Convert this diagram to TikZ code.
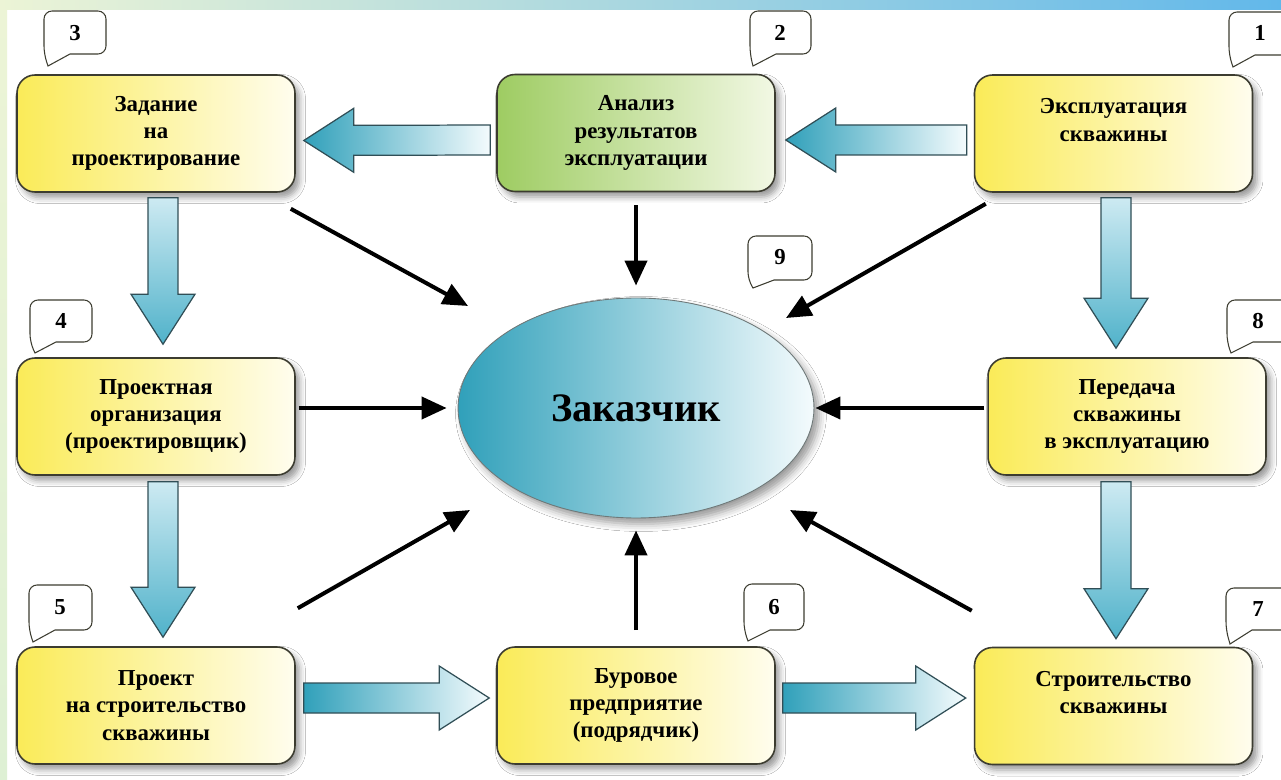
\documentclass[tikz,border=0pt]{standalone}
\usepackage{fontspec}
\setmainfont{Liberation Serif}
\usetikzlibrary{calc,arrows.meta,shapes.geometric,shadows.blur}

\definecolor{boxyellow}{RGB}{250,235,88}
\definecolor{boxcream}{RGB}{255,253,238}
\definecolor{boxgreen}{RGB}{158,204,98}
\definecolor{boxgreenlight}{RGB}{242,248,228}
\definecolor{boxline}{RGB}{60,60,48}
\definecolor{cyandark}{RGB}{48,160,186}
\definecolor{cyanmid}{RGB}{80,178,202}
\definecolor{cyanpale}{RGB}{205,234,242}
\definecolor{cyanlight}{RGB}{244,251,253}
\definecolor{arrline}{RGB}{48,78,86}
\definecolor{ovalline}{RGB}{110,120,120}
\definecolor{stripL}{RGB}{236,244,214}
\definecolor{stripR}{RGB}{98,184,234}
\definecolor{stripside}{RGB}{222,240,212}

% helper: a wide shaded block arrow from #1 (tail) to #2 (tip)
\newcommand\bigarrow[3]{%
  \coordinate (ba-t) at #1;
  \coordinate (ba-h) at #2;
  \coordinate (ba-m) at ($(ba-h)!1.0cm!(ba-t)$);
  \path[bigarrowstyle,#3]
    ($(ba-t)!0.3cm!90:(ba-h)$) -- ($(ba-m)!0.3cm!-90:(ba-t)$)
    -- ($(ba-m)!0.64cm!-90:(ba-t)$) -- (ba-h)
    -- ($(ba-m)!0.64cm!90:(ba-t)$) -- ($(ba-m)!0.3cm!90:(ba-t)$)
    -- ($(ba-t)!0.3cm!-90:(ba-h)$) -- cycle;}

% helper: speech-bubble outline with its tail at lower left
\newcommand\callout[6]{%
  \draw[calloutline] (#1+26,#4) [rounded corners=0.16cm] -- (#3,#4) -- (#3,#2)
    -- (#1,#2) -- (#1,#4) [sharp corners] -- (#5,#6) -- cycle;}

\tikzset{
  stage/.style={rectangle, rounded corners=0.36cm, draw=boxline, line width=0.9pt,
    minimum width=5.56cm, minimum height=2.34cm, align=center,
    font=\fontsize{13}{15.5}\selectfont\bfseries,
    left color=boxyellow, right color=boxcream,
    blur shadow={shadow xshift=0.09cm, shadow yshift=-0.11cm, shadow blur radius=0.12cm}},
  greenstage/.style={stage, left color=boxgreen, right color=boxgreenlight},
  hub/.style={ellipse, draw=ovalline, line width=0.5pt,
    minimum width=7.12cm, minimum height=4.4cm,
    left color=cyandark, right color=cyanlight,
    font=\fontsize{23}{27}\selectfont\bfseries,
    blur shadow={shadow xshift=0.1cm, shadow yshift=-0.12cm, shadow blur radius=0.15cm}},
  bigarrowstyle/.style={draw=arrline, line width=0.7pt},
  horizdark/.style={left color=cyandark, right color=cyanlight},
  horizdarkright/.style={left color=cyandark, right color=cyanlight},
  vertflow/.style={top color=cyanpale, bottom color=cyanmid},
  link/.style={line width=0.08cm, black, -{Triangle[length=0.5cm,width=0.44cm]}},
  calloutline/.style={draw=boxline, line width=0.6pt, fill=white},
  num/.style={font=\fontsize{13}{15}\selectfont\bfseries, inner sep=0pt},
}

\begin{document}
\begin{tikzpicture}[x=0.02cm, y=-0.02cm]
  \useasboundingbox (0,0) rectangle (1281,780);

  % page frame
  \fill[white] (0,0) rectangle (1281,780);
  \fill[left color=stripL, right color=stripR] (0,0) rectangle (1281,10);
  \fill[top color=stripL, bottom color=stripside] (0,10) rectangle (7,780);

  % stages
  \node[stage] (b3) at (156,133.5) {Задание\\на\\проектирование};
  \node[greenstage] (b2) at (636,133) {Анализ\\результатов\\эксплуатации};
  \node[stage] (b1) at (1113.5,133.5) {Эксплуатация\\скважины\\\mbox{}};
  \node[stage] (b4) at (156,416.5) {Проектная\\организация\\(проектировщик)};
  \node[stage] (b8) at (1127,416.5) {Передача\\скважины\\в эксплуатацию};
  \node[stage] (b5) at (156,705.5) {Проект\\на строительство\\скважины};
  \node[stage] (b6) at (636,705.5) {Буровое\\предприятие\\(подрядчик)};
  \node[stage] (b7) at (1113.5,706) {Строительство\\скважины\\\mbox{}};

  % the customer
  \node[hub] (e) at (636,408) {Заказчик};

  % process flow
  \bigarrow{($(b2.west)+(-6,7)$)}{($(b3.east)+(8,7)$)}{horizdark}
  \bigarrow{($(b1.west)+(-7,6.5)$)}{($(b2.east)+(10,7)$)}{horizdark}
  \bigarrow{($(b3.south)+(7,5)$)}{($(b4.north)+(7,-13)$)}{vertflow}
  \bigarrow{($(b4.south)+(7,6)$)}{($(b5.north)+(7,-9)$)}{vertflow}
  \bigarrow{($(b1.south)+(2.5,5)$)}{($(b8.north)+(-11,-9)$)}{vertflow}
  \bigarrow{($(b8.south)+(-11,6)$)}{($(b7.north)+(2.5,-8)$)}{vertflow}
  \bigarrow{($(b5.east)+(8,-7.5)$)}{($(b6.west)+(-7,-7.5)$)}{horizdarkright}
  \bigarrow{($(b6.east)+(7,-7.5)$)}{($(b7.west)+(-8,-8)$)}{horizdarkright}

  % links to the customer
  \draw[link] ($(b3.south east)+(-5,16)$) -- ($(e)+(-168,-102)$);
  \draw[link] ($(b2.south)+(0,13)$) -- ($(e.north)+(0,-12)$);
  \draw[link] ($(b1.south west)+(12,11)$) -- ($(e)+(150,-90)$);
  \draw[link] ($(b4.east)+(3,-8.5)$) -- ($(e.west)+(-11,0)$);
  \draw[link] ($(b8.west)+(-3,-8.5)$) -- ($(e.east)+(1,0)$);
  \draw[link] ($(b5.north east)+(2,-38)$) -- ($(e)+(-166,102)$);
  \draw[link] ($(b6.north)+(0,-16)$) -- ($(e.south)+(0,12)$);
  \draw[link] ($(b7.north west)+(-2,-36)$) -- ($(e)+(154,102)$);

  % step numbers
  \callout{44}{11}{106}{54}{48}{66}
  \node[num] (n3) at (75,33) {3};
  \callout{750}{11}{811}{54}{753}{66}
  \node[num] (n2) at (780,33) {2};
  \callout{1229}{12}{1292}{55}{1233}{67}
  \node[num] (n1) at (1260,33) {1};
  \callout{30}{300}{92}{342}{35}{353}
  \node[num] (n4) at (61,321) {4};
  \callout{748}{236}{812}{280}{753}{288}
  \node[num] (n9) at (780,257) {9};
  \callout{1227}{300}{1292}{342}{1231}{353}
  \node[num] (n8) at (1258,321) {8};
  \callout{29}{585}{92}{630}{33}{642}
  \node[num] (n5) at (60,607) {5};
  \callout{744}{584}{804}{630}{748}{641}
  \node[num] (n6) at (774,607) {6};
  \callout{1226}{588}{1292}{630}{1230}{644}
  \node[num] (n7) at (1258,609) {7};
\end{tikzpicture}
\end{document}
